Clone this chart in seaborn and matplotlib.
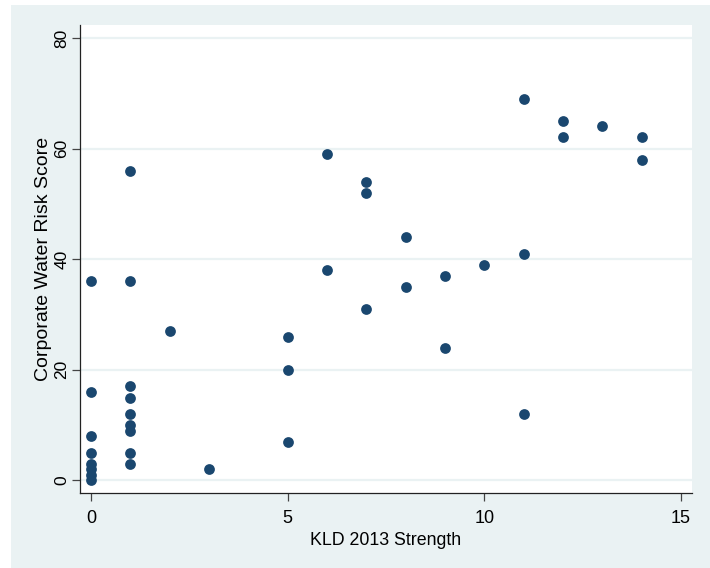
import matplotlib
matplotlib.use("Agg")
import matplotlib.pyplot as plt
import seaborn as sns
import pandas as pd
from matplotlib.patches import Rectangle

# Data
kld_strength = [0, 0, 0, 0, 0, 0, 0, 0,
                1, 1, 1, 1, 1, 1, 1, 1, 1,
                2, 3,
                5, 5, 5,
                6, 6,
                7, 7, 7,
                8, 8,
                9, 9,
                10,
                11, 11, 11,
                12, 12,
                13,
                14, 14]
water_risk = [36, 16, 8, 5, 3, 2, 1, 0,
              56, 36, 17, 15, 12, 10, 9, 5, 3,
              27, 2,
              26, 20, 7,
              59, 38,
              54, 52, 31,
              44, 35,
              37, 24,
              39,
              69, 41, 12,
              65, 62,
              64,
              62, 58]
x_ticks = [0, 5, 10, 15]
y_ticks = [0, 20, 40, 60, 80]

df = pd.DataFrame({"KLD 2013 Strength": kld_strength,
                   "Corporate Water Risk Score": water_risk})

sns.set_theme(style="white")
plt.rcParams['font.family'] = ['Liberation Sans', 'DejaVu Sans']

BG = "#EAF2F3"
NAVY = "#1A476F"

fig = plt.figure(figsize=(7.10, 5.68), dpi=100, facecolor="white")
fig.patches.append(Rectangle((11/710, 0), 1, 1 - 5/568, transform=fig.transFigure,
                             facecolor=BG, edgecolor="none", zorder=-10))
ax = fig.add_axes([80/710, (568-493)/568, (692-80)/710, (493-25)/568])
ax.set_facecolor("white")

sns.scatterplot(data=df, x="KLD 2013 Strength", y="Corporate Water Risk Score",
                ax=ax, color=NAVY, s=60, edgecolor=NAVY, linewidth=0, zorder=3)

ax.set_xlim(-0.28, 15.28)
ax.set_ylim(-2.26, 82.33)
ax.set_xticks(x_ticks)
ax.set_yticks(y_ticks)
ax.set_xticklabels([str(v) for v in x_ticks], fontsize=13)
ax.set_yticklabels([str(v) for v in y_ticks], fontsize=12.5, rotation=90, va="center")

ax.yaxis.grid(True, color=BG, linewidth=1.6, zorder=0)
ax.xaxis.grid(False)
ax.set_axisbelow(True)

for side in ["top", "right"]:
    ax.spines[side].set_visible(False)
for side in ["left", "bottom"]:
    ax.spines[side].set_color("#222222")
    ax.spines[side].set_linewidth(0.9)

ax.tick_params(axis="both", which="major", direction="out", length=5.5, width=0.9,
               color="#444444", labelcolor="black", bottom=True, left=True)
ax.tick_params(axis="x", pad=7)
ax.tick_params(axis="y", pad=2)

ax.set_xlabel("KLD 2013 Strength", fontsize=12.8, color="black", labelpad=3)
ax.set_ylabel("Corporate Water Risk Score", fontsize=14, color="black", labelpad=2)

fig.savefig("out.png", dpi=100, facecolor=fig.get_facecolor())
